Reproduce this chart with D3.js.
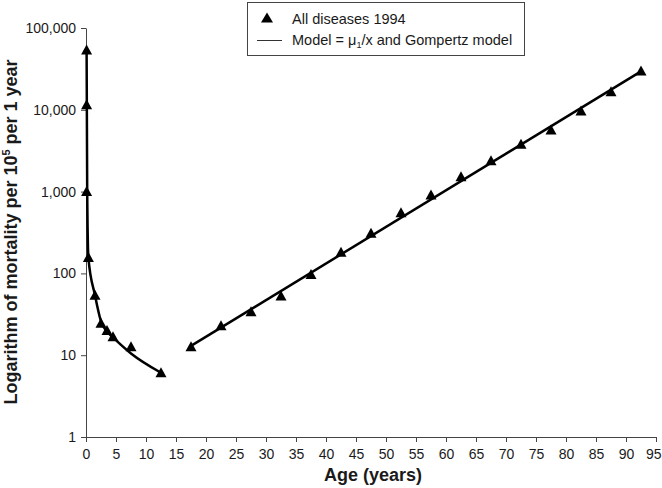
<!DOCTYPE html>
<html><head><meta charset="utf-8">
<script src="https://cdn.jsdelivr.net/npm/d3@7"></script>
<style>body{margin:0;background:#fff}svg{display:block;font-family:"Liberation Sans",Arial,sans-serif}</style>
</head><body><svg id="c" width="662" height="488"></svg>
<script>
// Observed data: all diseases 1994
const dataAges = [0.1, 0.1, 0.1, 0.4, 1.5, 2.5, 3.5, 4.5, 7.5, 12.5,
  17.5, 22.5, 27.5, 32.5, 37.5, 42.5, 47.5, 52.5, 57.5, 62.5, 67.5, 72.5, 77.5, 82.5, 87.5, 92.5];
const dataValues = [54000, 11500, 1000, 157, 54, 24.6, 20, 16.8, 12.7, 6.1,
  12.7, 22.9, 34, 53, 97, 181, 309, 552, 908, 1520, 2390, 3790, 5660, 9670, 16640, 29800];
// Model = mu1/x (children)
const childModelAges = [0.1, 0.2, 0.4, 1.5, 2.5, 3.5, 4.5, 7.5, 12.5];
const childModelValues = [54000, 1000, 155, 54, 26, 19.5, 16.5, 10.5, 6.1];
// Gompertz model (adults)
const gompertzAges = [17.5, 92.5];
const gompertzValues = [13, 29500];
// Tick labels
const xTicks = d3.range(0, 96, 5);
const yTicks = [1, 10, 100, 1000, 10000, 100000];

const svg = d3.select("#c");
const x = d3.scaleLinear().domain([0, 95]).range([86, 656]);
const y = d3.scaleLog().domain([1, 100000]).range([437, 28]);
const axisColor = "#444", textColor = "#1a1a1a";

// axes
const gx = svg.append("g").attr("transform", "translate(0,437)")
  .call(d3.axisBottom(x).tickValues(xTicks).tickSize(5).tickSizeOuter(0).tickPadding(7));
const gy = svg.append("g").attr("transform", "translate(86,0)")
  .call(d3.axisLeft(y).tickValues(yTicks).tickFormat(d3.format(",")).tickSize(5).tickSizeOuter(0).tickPadding(5));
[gx, gy].forEach(g => {
  g.selectAll("path,line").attr("stroke", axisColor).attr("stroke-width", 1);
  g.selectAll("text").attr("fill", textColor).style("font-size", "14px")
   .style("font-family", '"Liberation Sans",Arial,sans-serif');
});
// keep the last x label inside the canvas
gx.selectAll(".tick text").filter(d => d === 95).attr("text-anchor", "end").attr("x", 5);

// axis titles
svg.append("text").attr("x", 373).attr("y", 481).attr("text-anchor", "middle")
  .attr("font-weight", "bold").attr("font-size", 18).attr("fill", textColor).text("Age (years)");
const yt = svg.append("text").attr("transform", "translate(17,232) rotate(-90)")
  .attr("text-anchor", "middle").attr("font-weight", "bold").attr("font-size", 18).attr("fill", textColor);
yt.append("tspan").text("Logarithm of mortality per 10");
yt.append("tspan").attr("dy", -7).attr("font-size", 11).text("5");
yt.append("tspan").attr("dy", 7).text(" per 1 year");

// model lines
const line = d3.line().x(d => x(d[0])).y(d => y(d[1]));
svg.append("path").datum(childModelAges.map((a, i) => [a, childModelValues[i]]))
  .attr("d", line.curve(d3.curveMonotoneX)).attr("fill", "none").attr("stroke", "#000").attr("stroke-width", 2.5);
svg.append("path").datum(gompertzAges.map((a, i) => [a, gompertzValues[i]]))
  .attr("d", d3.line().x(d => x(d[0])).y(d => y(d[1]))).attr("fill", "none").attr("stroke", "#000").attr("stroke-width", 2.5);

// markers
const tri = "M0,-5.5L5.5,4.5L-5.5,4.5Z";
svg.append("g").selectAll("path").data(dataAges.map((a, i) => [a, dataValues[i]])).join("path")
  .attr("d", tri).attr("transform", d => `translate(${x(d[0])},${y(d[1])})`).attr("fill", "#000");

// legend
const lg = svg.append("g");
lg.append("rect").attr("x", 247.5).attr("y", 2.5).attr("width", 277).attr("height", 53)
  .attr("fill", "#fff").attr("stroke", "#444").attr("stroke-width", 1);
lg.append("path").attr("d", "M0,-5.5L6,4.5L-6,4.5Z").attr("transform", "translate(267,18)").attr("fill", "#000");
lg.append("text").attr("x", 292).attr("y", 24).attr("font-size", 14.5).attr("fill", textColor).text("All diseases 1994");
lg.append("line").attr("x1", 257).attr("x2", 282).attr("y1", 40.5).attr("y2", 40.5).attr("stroke", "#333").attr("stroke-width", 1);
const lt = lg.append("text").attr("x", 292).attr("y", 45).attr("font-size", 14.5).attr("fill", textColor);
lt.append("tspan").text("Model = μ");
lt.append("tspan").attr("dy", 3).attr("font-size", 9).text("1");
lt.append("tspan").attr("dy", -3).text("/x and Gompertz model");
</script></body></html>
